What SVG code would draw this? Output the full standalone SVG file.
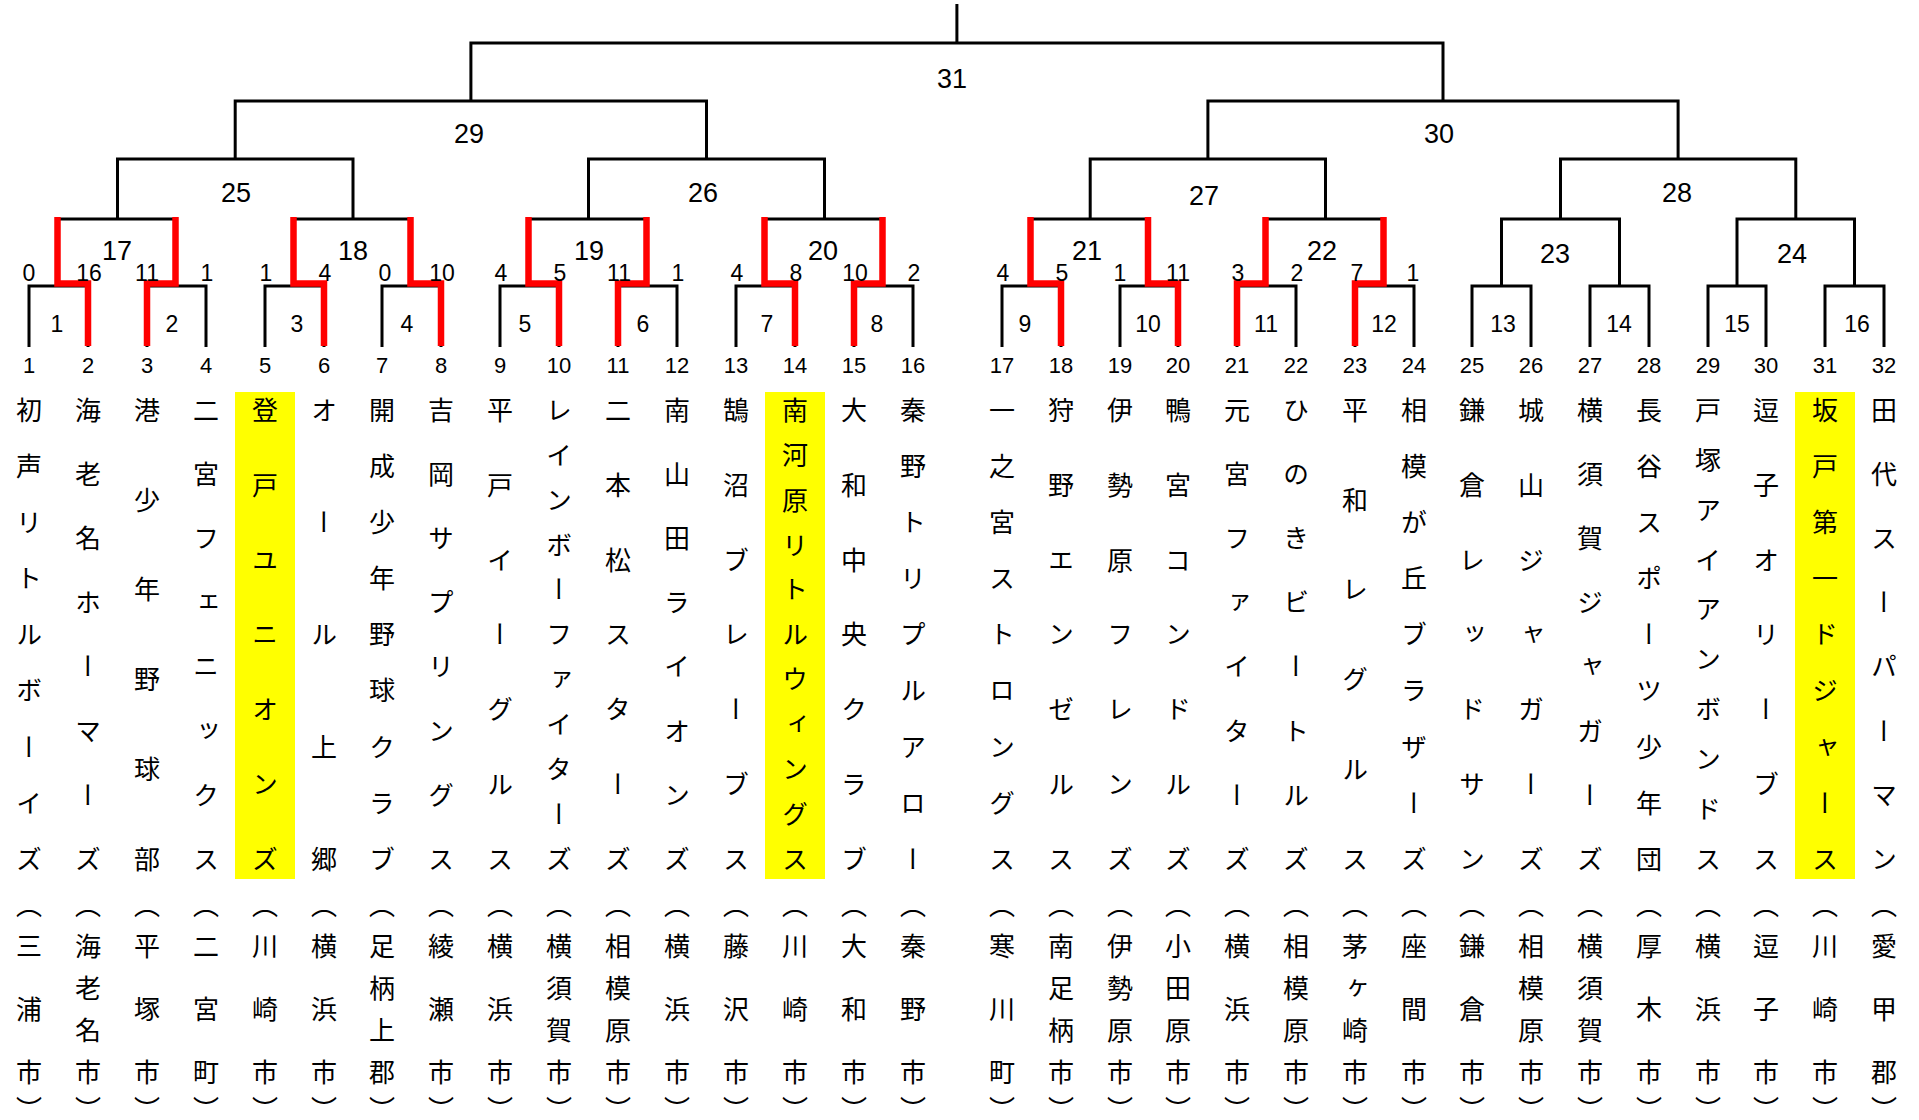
<svg xmlns="http://www.w3.org/2000/svg" width="1919" height="1120" viewBox="0 0 1919 1120">
<style>
.ln{fill:none;stroke:#000;stroke-width:3;stroke-linejoin:miter}
.rd{fill:none;stroke:#f00;stroke-width:6.5;stroke-linejoin:miter}
.nm{font-family:"Noto Sans CJK JP","Noto Sans CJK SC",sans-serif;font-size:26px;writing-mode:vertical-rl;text-anchor:middle;fill:#000}
.ct{font-family:"Noto Sans CJK JP","Noto Sans CJK SC",sans-serif;font-size:26px;writing-mode:vertical-rl;text-anchor:middle;fill:#000}
.tn{font-family:"Liberation Sans",Arial,sans-serif;font-size:22px;text-anchor:middle;fill:#000}
.sc{font-family:"Liberation Sans",Arial,sans-serif;font-size:23px;text-anchor:middle;fill:#000}
.mn{font-family:"Liberation Sans",Arial,sans-serif;font-size:23px;text-anchor:middle;fill:#000}
.lv{font-family:"Liberation Sans",Arial,sans-serif;font-size:27px;text-anchor:middle;fill:#000}
.hl{fill:#ffff00}
</style>
<rect width="1919" height="1120" fill="#fff"/>
<g id="connectors">
<path class="ln" d="M29 347V286H88V347M147 347V286H206V347M265 347V286H324V347M382 347V286H441V347M500 347V286H559V347M618 347V286H677V347M736 347V286H795V347M854 347V286H913V347M1002 347V286H1061V347M1120 347V286H1178V347M1237 347V286H1296V347M1355 347V286H1414V347M1472 347V286H1531V347M1590 347V286H1649V347M1708 347V286H1766V347M1825 347V286H1884V347"/>
<path class="ln" d="M58.5 286V219H176.5V286M294.5 286V219H411.5V286M529.5 286V219H647.5V286M765.5 286V219H883.5V286M1031.5 286V219H1149V286M1266.5 286V219H1384.5V286M1501.5 286V219H1619.5V286M1737 286V219H1854.5V286"/>
<path class="ln" d="M117.5 219V159H353V219M588.5 219V159H824.5V219M1090.2 219V159H1325.5V219M1560.5 219V159H1795.8V219"/>
<path class="ln" d="M235.2 159V101H706.5V159M1207.9 159V101H1678.1V159"/>
<path class="ln" d="M470.9 101V43H1443V101M956.9 43V4"/>
<path class="rd" d="M88 346V283.5H57.5V217M147 346V283.5H175.5V217M324 346V283.5H293.5V217M441 346V283.5H410.5V217M559 346V283.5H528.5V217M618 346V283.5H646.5V217M795 346V283.5H764.5V217M854 346V283.5H882.5V217M1061 346V283.5H1030.5V217M1178 346V283.5H1148V217M1237 346V283.5H1265.5V217M1355 346V283.5H1383.5V217"/>
</g>
<g id="matches">
<g id="match-1"><text class="mn" x="57" y="332">1</text><text class="sc" x="29" y="281">0</text><text class="sc" x="89" y="281">16</text></g>
<g id="match-2"><text class="mn" x="172" y="332">2</text><text class="sc" x="147" y="281">11</text><text class="sc" x="207" y="281">1</text></g>
<g id="match-3"><text class="mn" x="297" y="332">3</text><text class="sc" x="266" y="281">1</text><text class="sc" x="325" y="281">4</text></g>
<g id="match-4"><text class="mn" x="407" y="332">4</text><text class="sc" x="385" y="281">0</text><text class="sc" x="442" y="281">10</text></g>
<g id="match-5"><text class="mn" x="525" y="332">5</text><text class="sc" x="501" y="281">4</text><text class="sc" x="560" y="281">5</text></g>
<g id="match-6"><text class="mn" x="643" y="332">6</text><text class="sc" x="619" y="281">11</text><text class="sc" x="678" y="281">1</text></g>
<g id="match-7"><text class="mn" x="767" y="332">7</text><text class="sc" x="737" y="281">4</text><text class="sc" x="796" y="281">8</text></g>
<g id="match-8"><text class="mn" x="877" y="332">8</text><text class="sc" x="855" y="281">10</text><text class="sc" x="914" y="281">2</text></g>
<g id="match-9"><text class="mn" x="1025" y="332">9</text><text class="sc" x="1003" y="281">4</text><text class="sc" x="1062" y="281">5</text></g>
<g id="match-10"><text class="mn" x="1148" y="332">10</text><text class="sc" x="1120" y="281">1</text><text class="sc" x="1178" y="281">11</text></g>
<g id="match-11"><text class="mn" x="1266" y="332">11</text><text class="sc" x="1238" y="281">3</text><text class="sc" x="1297" y="281">2</text></g>
<g id="match-12"><text class="mn" x="1384" y="332">12</text><text class="sc" x="1357" y="281">7</text><text class="sc" x="1413" y="281">1</text></g>
<g id="match-13"><text class="mn" x="1503" y="332">13</text></g>
<g id="match-14"><text class="mn" x="1619" y="332">14</text></g>
<g id="match-15"><text class="mn" x="1737" y="332">15</text></g>
<g id="match-16"><text class="mn" x="1857" y="332">16</text></g>
<g id="match-17"><text class="lv" x="117" y="260">17</text></g>
<g id="match-18"><text class="lv" x="353" y="260">18</text></g>
<g id="match-19"><text class="lv" x="589" y="260">19</text></g>
<g id="match-20"><text class="lv" x="823" y="260">20</text></g>
<g id="match-21"><text class="lv" x="1087" y="260">21</text></g>
<g id="match-22"><text class="lv" x="1322" y="260">22</text></g>
<g id="match-23"><text class="lv" x="1555" y="263">23</text></g>
<g id="match-24"><text class="lv" x="1792" y="263">24</text></g>
<g id="match-25"><text class="lv" x="236" y="202">25</text></g>
<g id="match-26"><text class="lv" x="703" y="202">26</text></g>
<g id="match-27"><text class="lv" x="1204" y="205">27</text></g>
<g id="match-28"><text class="lv" x="1677" y="202">28</text></g>
<g id="match-29"><text class="lv" x="469" y="143">29</text></g>
<g id="match-30"><text class="lv" x="1439" y="143">30</text></g>
<g id="match-31"><text class="lv" x="952" y="88">31</text></g>
</g>
<g id="teams">
<g id="team-1"><text class="tn" x="29" y="373">1</text><text class="nm" x="29" y="410 466.1 522.3 578.4 634.5 690.6 746.8 802.9 859">初声リトルボーイズ</text><text class="ct" x="29" y="905 946 1009 1072 1109">（三浦市）</text></g>
<g id="team-2"><text class="tn" x="88" y="373">2</text><text class="nm" x="88" y="410 474.1 538.3 602.4 666.6 730.7 794.9 859">海老名ホーマーズ</text><text class="ct" x="88" y="905 946 988 1030 1072 1109">（海老名市）</text></g>
<g id="team-3"><text class="tn" x="147" y="373">3</text><text class="nm" x="147" y="410 499.8 589.6 679.4 769.2 859">港少年野球部</text><text class="ct" x="147" y="905 946 1009 1072 1109">（平塚市）</text></g>
<g id="team-4"><text class="tn" x="206" y="373">4</text><text class="nm" x="206" y="410 474.1 538.3 602.4 666.6 730.7 794.9 859">二宮フェニックス</text><text class="ct" x="206" y="905 946 1009 1072 1109">（二宮町）</text></g>
<g id="team-5"><rect class="hl" x="235" y="392" width="60" height="487"/><text class="tn" x="265" y="373">5</text><text class="nm" x="265" y="410 484.8 559.7 634.5 709.3 784.2 859">登戸ユニオンズ</text><text class="ct" x="265" y="905 946 1009 1072 1109">（川崎市）</text></g>
<g id="team-6"><text class="tn" x="324" y="373">6</text><text class="nm" x="324" y="410 522.3 634.5 746.8 859">オール上郷</text><text class="ct" x="324" y="905 946 1009 1072 1109">（横浜市）</text></g>
<g id="team-7"><text class="tn" x="382" y="373">7</text><text class="nm" x="382" y="410 466.1 522.3 578.4 634.5 690.6 746.8 802.9 859">開成少年野球クラブ</text><text class="ct" x="382" y="905 946 988 1030 1072 1109">（足柄上郡）</text></g>
<g id="team-8"><text class="tn" x="441" y="373">8</text><text class="nm" x="441" y="410 474.1 538.3 602.4 666.6 730.7 794.9 859">吉岡サプリングス</text><text class="ct" x="441" y="905 946 1009 1072 1109">（綾瀬市）</text></g>
<g id="team-9"><text class="tn" x="500" y="373">9</text><text class="nm" x="500" y="410 484.8 559.7 634.5 709.3 784.2 859">平戸イーグルス</text><text class="ct" x="500" y="905 946 1009 1072 1109">（横浜市）</text></g>
<g id="team-10"><text class="tn" x="559" y="373">10</text><text class="nm" x="559" y="410 454.9 499.8 544.7 589.6 634.5 679.4 724.3 769.2 814.1 859">レインボーファイターズ</text><text class="ct" x="559" y="905 946 988 1030 1072 1109">（横須賀市）</text></g>
<g id="team-11"><text class="tn" x="618" y="373">11</text><text class="nm" x="618" y="410 484.8 559.7 634.5 709.3 784.2 859">二本松スターズ</text><text class="ct" x="618" y="905 946 988 1030 1072 1109">（相模原市）</text></g>
<g id="team-12"><text class="tn" x="677" y="373">12</text><text class="nm" x="677" y="410 474.1 538.3 602.4 666.6 730.7 794.9 859">南山田ライオンズ</text><text class="ct" x="677" y="905 946 1009 1072 1109">（横浜市）</text></g>
<g id="team-13"><text class="tn" x="736" y="373">13</text><text class="nm" x="736" y="410 484.8 559.7 634.5 709.3 784.2 859">鵠沼ブレーブス</text><text class="ct" x="736" y="905 946 1009 1072 1109">（藤沢市）</text></g>
<g id="team-14"><rect class="hl" x="765" y="392" width="60" height="487"/><text class="tn" x="795" y="373">14</text><text class="nm" x="795" y="410 454.9 499.8 544.7 589.6 634.5 679.4 724.3 769.2 814.1 859">南河原リトルウィングス</text><text class="ct" x="795" y="905 946 1009 1072 1109">（川崎市）</text></g>
<g id="team-15"><text class="tn" x="854" y="373">15</text><text class="nm" x="854" y="410 484.8 559.7 634.5 709.3 784.2 859">大和中央クラブ</text><text class="ct" x="854" y="905 946 1009 1072 1109">（大和市）</text></g>
<g id="team-16"><text class="tn" x="913" y="373">16</text><text class="nm" x="913" y="410 466.1 522.3 578.4 634.5 690.6 746.8 802.9 859">秦野トリプルアロー</text><text class="ct" x="913" y="905 946 1009 1072 1109">（秦野市）</text></g>
<g id="team-17"><text class="tn" x="1002" y="373">17</text><text class="nm" x="1002" y="410 466.1 522.3 578.4 634.5 690.6 746.8 802.9 859">一之宮ストロングス</text><text class="ct" x="1002" y="905 946 1009 1072 1109">（寒川町）</text></g>
<g id="team-18"><text class="tn" x="1061" y="373">18</text><text class="nm" x="1061" y="410 484.8 559.7 634.5 709.3 784.2 859">狩野エンゼルス</text><text class="ct" x="1061" y="905 946 988 1030 1072 1109">（南足柄市）</text></g>
<g id="team-19"><text class="tn" x="1120" y="373">19</text><text class="nm" x="1120" y="410 484.8 559.7 634.5 709.3 784.2 859">伊勢原フレンズ</text><text class="ct" x="1120" y="905 946 988 1030 1072 1109">（伊勢原市）</text></g>
<g id="team-20"><text class="tn" x="1178" y="373">20</text><text class="nm" x="1178" y="410 484.8 559.7 634.5 709.3 784.2 859">鴨宮コンドルズ</text><text class="ct" x="1178" y="905 946 988 1030 1072 1109">（小田原市）</text></g>
<g id="team-21"><text class="tn" x="1237" y="373">21</text><text class="nm" x="1237" y="410 474.1 538.3 602.4 666.6 730.7 794.9 859">元宮ファイターズ</text><text class="ct" x="1237" y="905 946 1009 1072 1109">（横浜市）</text></g>
<g id="team-22"><text class="tn" x="1296" y="373">22</text><text class="nm" x="1296" y="410 474.1 538.3 602.4 666.6 730.7 794.9 859">ひのきビートルズ</text><text class="ct" x="1296" y="905 946 988 1030 1072 1109">（相模原市）</text></g>
<g id="team-23"><text class="tn" x="1355" y="373">23</text><text class="nm" x="1355" y="410 499.8 589.6 679.4 769.2 859">平和レグルス</text><text class="ct" x="1355" y="905 946 988 1030 1072 1109">（茅ヶ崎市）</text></g>
<g id="team-24"><text class="tn" x="1414" y="373">24</text><text class="nm" x="1414" y="410 466.1 522.3 578.4 634.5 690.6 746.8 802.9 859">相模が丘ブラザーズ</text><text class="ct" x="1414" y="905 946 1009 1072 1109">（座間市）</text></g>
<g id="team-25"><text class="tn" x="1472" y="373">25</text><text class="nm" x="1472" y="410 484.8 559.7 634.5 709.3 784.2 859">鎌倉レッドサン</text><text class="ct" x="1472" y="905 946 1009 1072 1109">（鎌倉市）</text></g>
<g id="team-26"><text class="tn" x="1531" y="373">26</text><text class="nm" x="1531" y="410 484.8 559.7 634.5 709.3 784.2 859">城山ジャガーズ</text><text class="ct" x="1531" y="905 946 988 1030 1072 1109">（相模原市）</text></g>
<g id="team-27"><text class="tn" x="1590" y="373">27</text><text class="nm" x="1590" y="410 474.1 538.3 602.4 666.6 730.7 794.9 859">横須賀ジャガーズ</text><text class="ct" x="1590" y="905 946 988 1030 1072 1109">（横須賀市）</text></g>
<g id="team-28"><text class="tn" x="1649" y="373">28</text><text class="nm" x="1649" y="410 466.1 522.3 578.4 634.5 690.6 746.8 802.9 859">長谷スポーツ少年団</text><text class="ct" x="1649" y="905 946 1009 1072 1109">（厚木市）</text></g>
<g id="team-29"><text class="tn" x="1708" y="373">29</text><text class="nm" x="1708" y="410 459.9 509.8 559.7 609.6 659.4 709.3 759.2 809.1 859">戸塚アイアンボンドス</text><text class="ct" x="1708" y="905 946 1009 1072 1109">（横浜市）</text></g>
<g id="team-30"><text class="tn" x="1766" y="373">30</text><text class="nm" x="1766" y="410 484.8 559.7 634.5 709.3 784.2 859">逗子オリーブス</text><text class="ct" x="1766" y="905 946 1009 1072 1109">（逗子市）</text></g>
<g id="team-31"><rect class="hl" x="1795" y="392" width="60" height="487"/><text class="tn" x="1825" y="373">31</text><text class="nm" x="1825" y="410 466.1 522.3 578.4 634.5 690.6 746.8 802.9 859">坂戸第一ドジャース</text><text class="ct" x="1825" y="905 946 1009 1072 1109">（川崎市）</text></g>
<g id="team-32"><text class="tn" x="1884" y="373">32</text><text class="nm" x="1884" y="410 474.1 538.3 602.4 666.6 730.7 794.9 859">田代スーパーマン</text><text class="ct" x="1884" y="905 946 1009 1072 1109">（愛甲郡）</text></g>
</g>
</svg>
